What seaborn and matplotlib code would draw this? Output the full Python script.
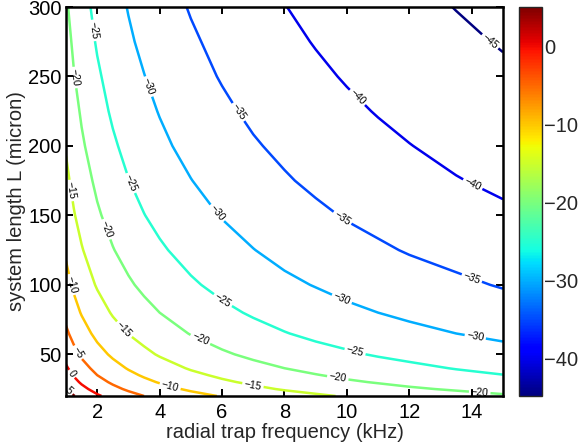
import numpy as np
import matplotlib
matplotlib.use("Agg")
import matplotlib.pyplot as plt
import matplotlib.colors as mcolors
import matplotlib.cm as cm
import seaborn as sns

# grid nodes (kHz, micron)
freq_khz = [1, 1.25, 1.5, 2, 2.5, 3, 3.5, 4, 5, 6, 7, 8, 9, 10, 11, 12, 13.5, 15]
length_um = [20, 25, 30, 35, 40, 50, 65, 80, 100, 125, 150, 175, 200, 225, 250, 275, 300]

# values: one row per length, one column per frequency
level_db = [
    [7.4, 5.2, 3.4, 0.6, -1.6, -3.4, -5.0, -6.3, -8.5, -10.3, -11.8, -13.1, -14.3, -15.4, -16.3, -17.2, -18.3, -19.4],
    [5.2, 3.0, 1.2, -1.6, -3.8, -5.7, -7.2, -8.5, -10.7, -12.5, -14.0, -15.4, -16.5, -17.6, -18.5, -19.4, -20.5, -21.6],
    [3.4, 1.2, -0.6, -3.4, -5.7, -7.5, -9.0, -10.3, -12.5, -14.3, -15.8, -17.2, -18.3, -19.4, -20.3, -21.2, -22.3, -23.4],
    [1.9, -0.3, -2.1, -5.0, -7.2, -9.0, -10.5, -11.8, -14.0, -15.8, -17.4, -18.7, -19.8, -20.9, -21.8, -22.7, -23.9, -24.9],
    [0.6, -1.6, -3.4, -6.3, -8.5, -10.3, -11.8, -13.1, -15.4, -17.2, -18.7, -20.0, -21.2, -22.2, -23.1, -24.0, -25.2, -26.2],
    [-1.6, -3.8, -5.7, -8.5, -10.7, -12.5, -14.0, -15.4, -17.6, -19.4, -20.9, -22.2, -23.4, -24.4, -25.4, -26.2, -27.4, -28.4],
    [-4.2, -6.4, -8.2, -11.1, -13.3, -15.1, -16.6, -17.9, -20.2, -22.0, -23.5, -24.8, -26.0, -27.0, -28.0, -28.8, -30.0, -31.0],
    [-6.3, -8.5, -10.3, -13.1, -15.4, -17.2, -18.7, -20.0, -22.2, -24.0, -25.5, -26.9, -28.0, -29.1, -30.0, -30.9, -32.0, -33.1],
    [-8.5, -10.7, -12.5, -15.4, -17.6, -19.4, -20.9, -22.2, -24.4, -26.2, -27.7, -29.1, -30.2, -31.3, -32.2, -33.1, -34.2, -35.3],
    [-10.7, -12.9, -14.7, -17.6, -19.8, -21.6, -23.1, -24.4, -26.6, -28.4, -29.9, -31.3, -32.4, -33.5, -34.4, -35.3, -36.4, -37.5],
    [-12.5, -14.7, -16.5, -19.4, -21.6, -23.4, -24.9, -26.2, -28.4, -30.2, -31.8, -33.1, -34.2, -35.3, -36.2, -37.1, -38.2, -39.3],
    [-14.0, -16.2, -18.0, -20.9, -23.1, -24.9, -26.4, -27.7, -29.9, -31.8, -33.3, -34.6, -35.8, -36.8, -37.7, -38.6, -39.8, -40.8],
    [-15.4, -17.6, -19.4, -22.2, -24.4, -26.2, -27.7, -29.1, -31.3, -33.1, -34.6, -35.9, -37.1, -38.1, -39.1, -39.9, -41.1, -42.1],
    [-16.5, -18.7, -20.5, -23.4, -25.6, -27.4, -28.9, -30.2, -32.4, -34.2, -35.8, -37.1, -38.2, -39.3, -40.2, -41.1, -42.3, -43.3],
    [-17.6, -19.8, -21.6, -24.4, -26.6, -28.4, -29.9, -31.3, -33.5, -35.3, -36.8, -38.1, -39.3, -40.3, -41.3, -42.1, -43.3, -44.3],
    [-18.5, -20.7, -22.5, -25.4, -27.6, -29.4, -30.9, -32.2, -34.4, -36.2, -37.7, -39.1, -40.2, -41.3, -42.2, -43.1, -44.2, -45.3],
    [-19.4, -21.6, -23.4, -26.2, -28.4, -30.2, -31.8, -33.1, -35.3, -37.1, -38.6, -39.9, -41.1, -42.1, -43.1, -43.9, -45.1, -46.1],
]

contour_levels = [-45, -40, -35, -30, -25, -20, -15, -10, -5, 0, 5]
cbar_ticks = [-40, -30, -20, -10, 0]
x_ticks = [2, 4, 6, 8, 10, 12, 14]
y_ticks = [50, 100, 150, 200, 250, 300]

# where the inline labels sit (near which contour)
label_spots = [
    (1.83, 283), (1.2, 249), (3.55, 242), (6.5, 224), (10.25, 233), (14.5, 273),
    (1.19, 168), (3.05, 173), (2.3, 140), (1.13, 100), (1.35, 51), (1.19, 36),
    (1.07, 23), (2.82, 67), (4.33, 26.5), (5.86, 152), (9.82, 147), (14.0, 171),
    (13.98, 103.5), (9.82, 89), (6.0, 88), (5.29, 60), (6.98, 26.7), (10.25, 51),
    (9.7, 32), (14.1, 61), (14.25, 21.4),
]

sns.set_style("ticks")
plt.rcParams['font.family'] = ['Liberation Sans', 'DejaVu Sans']
plt.rcParams['axes.unicode_minus'] = True

fig = plt.figure(figsize=(5.81, 4.47), dpi=100)
ax = fig.add_axes([0.1136, 0.1141, 0.7521, 0.8702])
cax = fig.add_axes([0.8933, 0.1141, 0.039, 0.8702])

norm = mcolors.Normalize(vmin=-44.8, vmax=5.1)
X, Y = np.meshgrid(freq_khz, length_um)
Z = np.array(level_db)

cs = ax.contour(X, Y, Z, levels=contour_levels, cmap='jet', norm=norm, linewidths=1.8)


def fmt(v):
    v = int(round(v))
    return f"\u2212{abs(v)}" if v < 0 else f"{v}"


ax.clabel(cs, manual=label_spots, inline=True, inline_spacing=2, fmt=fmt,
          fontsize=7.5, colors='k')

ax.set_xlim(1, 15)
ax.set_ylim(20, 300)
ax.set_xticks(x_ticks)
ax.set_yticks(y_ticks)
ax.tick_params(direction='in', top=True, right=True, length=5, width=1.4,
               labelsize=14.5, colors='k')
ax.tick_params(axis='x', pad=5)
ax.tick_params(axis='y', pad=3)
for s in ax.spines.values():
    s.set_linewidth(1.8)
    s.set_color('k')
ax.set_xlabel("radial trap frequency (kHz)", fontsize=14.5, labelpad=1)
ax.set_ylabel("system length L (micron)", fontsize=14.5, labelpad=2)

sm = cm.ScalarMappable(norm=norm, cmap='jet')
cb = fig.colorbar(sm, cax=cax, ticks=cbar_ticks)
cb.outline.set_linewidth(1.0)
cax.tick_params(direction='in', left=True, right=True, length=4, width=0.8,
                labelsize=14.5, pad=2)

fig.savefig("out.png", dpi=100)
